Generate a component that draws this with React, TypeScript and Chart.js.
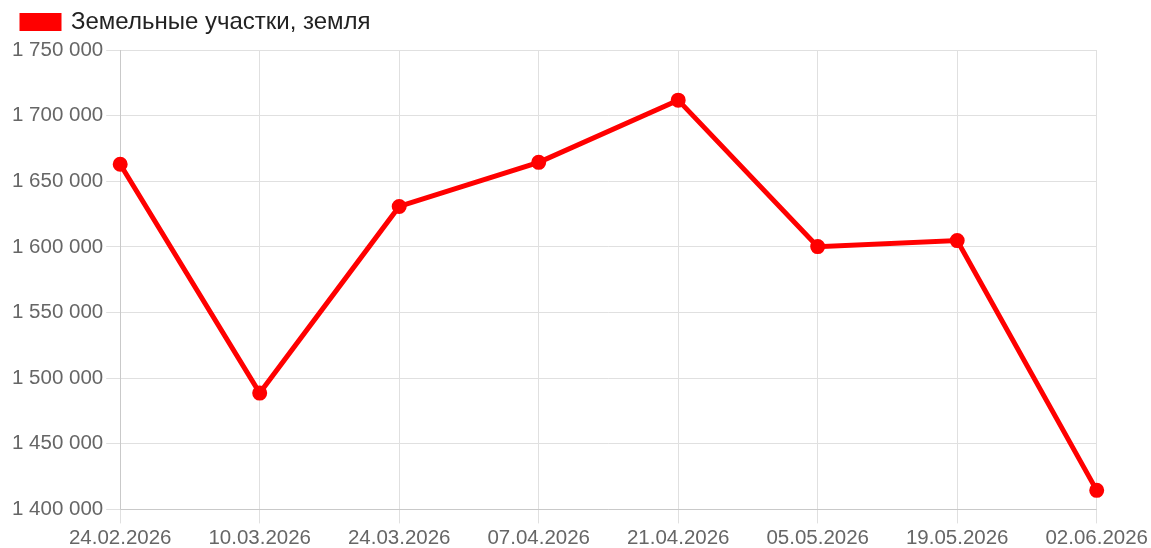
import React, { useEffect, useRef } from "react";
import { Chart, registerables } from "chart.js";

Chart.register(...registerables);

const labels = [
  "24.02.2026",
  "10.03.2026",
  "24.03.2026",
  "07.04.2026",
  "21.04.2026",
  "05.05.2026",
  "19.05.2026",
  "02.06.2026",
];

const values = [1663000, 1488600, 1630800, 1664400, 1711800, 1600200, 1604800, 1414500];

const seriesName = "Земельные участки, земля";

const fmt = (v: number) => String(Math.round(v)).replace(/\B(?=(\d{3})+(?!\d))/g, " ");

const legendSpacing = {
  id: "legendSpacing",
  beforeInit(chart: any) {
    const legend = chart.legend;
    if (!legend) return;
    const origFit = legend.fit;
    legend.fit = function () {
      origFit.call(this);
      this.height += 6;
    };
  },
};

export default function App() {
  const ref = useRef<HTMLCanvasElement | null>(null);
  useEffect(() => {
    if (!ref.current) return;
    const family = "'Liberation Sans', Arial, sans-serif";
    const tickFont = { family, size: 20.5 };
    const chart = new Chart(ref.current, {
      type: "line",
      plugins: [legendSpacing],
      data: {
        labels,
        datasets: [
          {
            label: seriesName,
            data: values,
            borderColor: "#ff0000",
            backgroundColor: "#ff0000",
            borderWidth: 5,
            pointRadius: 5,
            pointHoverRadius: 5,
            tension: 0,
            fill: false,
          },
        ],
      },
      options: {
        animation: false,
        responsive: true,
        maintainAspectRatio: false,
        layout: { padding: { left: 9, right: 3, top: -3, bottom: -6 } },
        plugins: {
          legend: {
            align: "start",
            labels: {
              font: { family, size: 24 },
              color: "#222",
              boxWidth: 37,
              boxHeight: 13,
              padding: 13,
            },
          },
          tooltip: { enabled: false },
        },
        scales: {
          x: {
            ticks: { font: tickFont, color: "#666", maxRotation: 0, padding: 3 },
            grid: { color: "#e0e0e0", tickLength: 14 },
          },
          y: {
            min: 1400000,
            max: 1750000,
            ticks: {
              font: tickFont,
              color: "#666",
              stepSize: 50000,
              padding: 3,
              callback: (v: any) => fmt(Number(v)),
            },
            grid: { color: "#e0e0e0", tickLength: 14 },
          },
        },
      },
    });
    return () => chart.destroy();
  }, []);
  return (
    <div style={{ position: "fixed", left: 0, top: 0, width: 1151, height: 548 }}>
      <canvas ref={ref} />
    </div>
  );
}
